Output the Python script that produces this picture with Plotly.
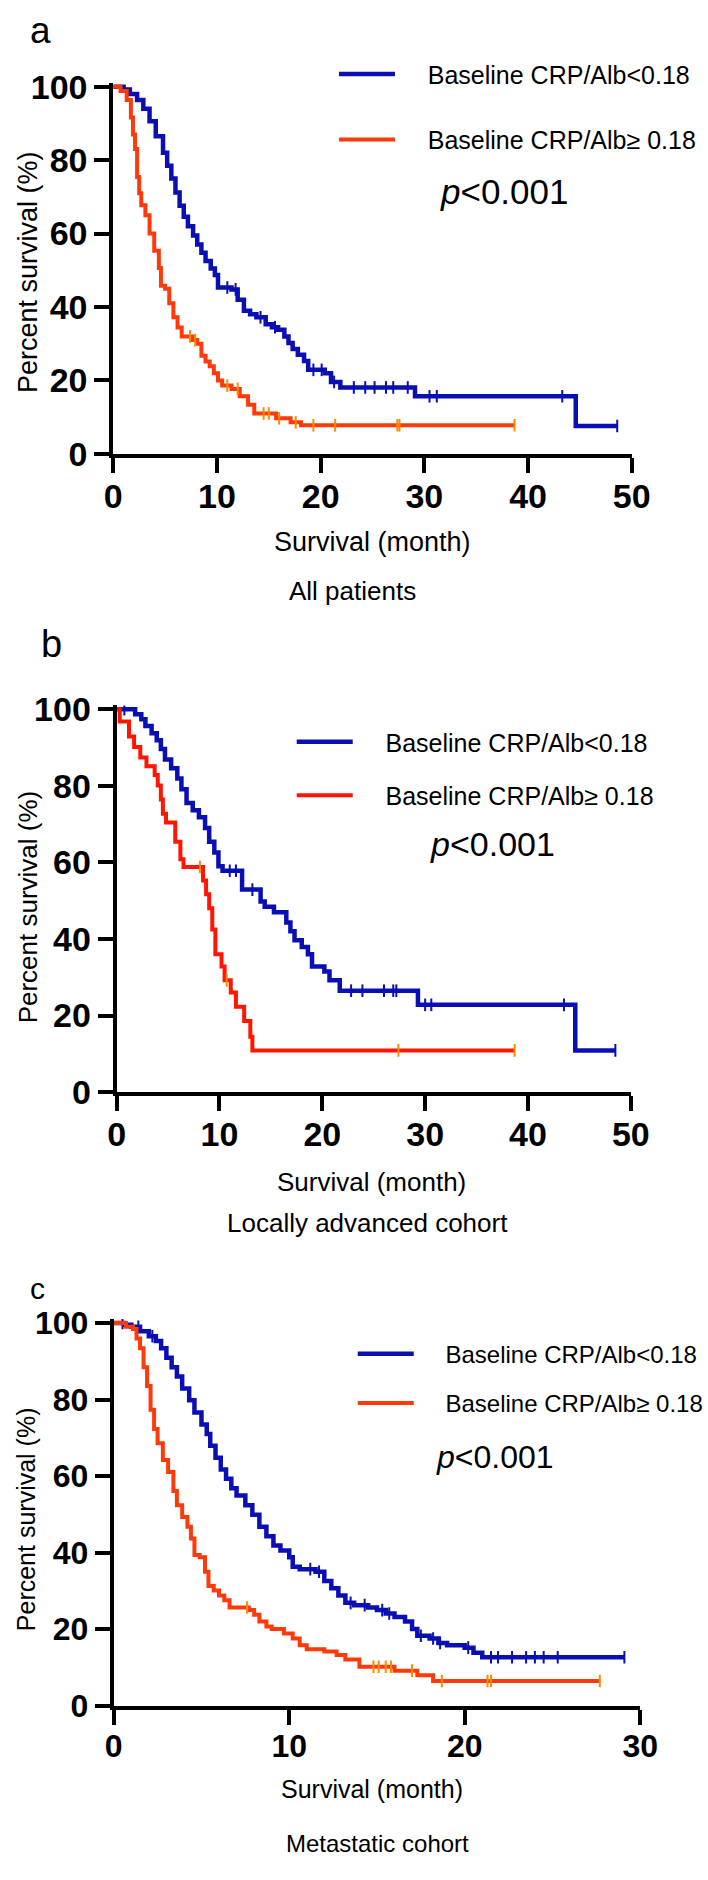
import plotly.graph_objects as go

# ---------------- data ----------------
# Panel a: All patients
a_low_t = [0, 1.0, 1.6, 2.3, 2.9, 3.5, 4.1, 4.8, 5.2, 5.6, 6.0, 6.4, 6.8, 7.2, 7.7, 8.1, 8.5, 8.9, 9.4, 9.8, 10.1,
           11.4, 12.0, 12.6, 13.2, 13.8, 14.7, 15.3, 15.9, 16.5, 16.9, 17.3, 17.8, 18.4, 18.8, 20.4, 21.0, 21.9, 29.1, 44.6]
a_low_s = [100, 99.2, 98, 96.4, 94, 90.6, 86.5, 82, 78.5, 75, 71.2, 67.6, 64.6, 62, 59.5, 57, 54.8, 52.5, 50.5, 48.7, 45.3,
           44.8, 42, 39, 38, 37.2, 35.3, 34.5, 33.8, 32, 30.2, 28.6, 27, 25.3, 22.9, 22, 19.6, 18.1, 15.7, 7.6]
a_low_end = 48.6
a_low_cens = [11.0, 11.8, 14.2, 15.6, 19.3, 20.1, 21.3, 23.2, 24.3, 25.2, 26.3, 27.0, 28.4, 30.5, 31.2, 43.3, 48.6]

a_high_t = [0, 0.7, 1.3, 1.7, 1.9, 2.1, 2.3, 2.5, 2.7, 3.1, 3.5, 3.95, 4.4, 4.6, 5.0, 5.4, 5.8, 6.2, 6.6, 7.65, 8.1, 8.5,
            8.9, 9.3, 9.7, 10.1, 10.5, 11.4, 12.2, 13.0, 13.6, 15.7, 17.1, 18.1]
a_high_s = [100, 98.8, 96.4, 91.6, 87, 83, 75.4, 71, 67.7, 65, 60, 55.3, 50.6, 45.8, 45, 41, 37.2, 34.4, 32, 31, 30, 26.7,
            25.2, 23.9, 22, 20, 18.6, 17.7, 15.7, 13.4, 11, 9.7, 8.6, 7.8]
a_high_end = 38.7
a_high_cens = [7.4, 7.9, 11.0, 12.0, 14.5, 15.0, 16.0, 17.6, 19.3, 21.4, 27.4, 27.6, 38.7]

# Panel b: Locally advanced cohort
b_low_t = [0, 1.8, 2.4, 2.8, 3.4, 3.9, 4.3, 4.7, 5.3, 5.9, 6.3, 6.8, 7.4, 8.0, 8.6, 9.0, 9.5, 9.9, 10.3, 12.2, 14.0,
           14.4, 15.3, 16.5, 16.9, 17.3, 18.0, 18.6, 19.0, 20.2, 20.7, 21.7, 29.3, 44.6]
b_low_s = [100, 98.7, 97.4, 95.6, 93.7, 91.9, 89.6, 86.9, 84.6, 81.9, 79.1, 75.5, 73.6, 71.8, 69, 65.4, 62.6, 59, 57.8,
           52.9, 49.8, 48.4, 47, 44.3, 42, 39.7, 37.9, 36, 32.8, 31.5, 29.2, 26.5, 22.8, 10.9]
b_low_end = 48.5
b_low_cens = [0.75, 11.0, 11.6, 13.2, 22.8, 23.9, 26.0, 26.9, 27.2, 30.0, 30.6, 43.5, 48.5]

b_high_t = [0, 0.3, 1.2, 1.7, 2.3, 2.9, 3.7, 4.0, 4.3, 4.5, 4.8, 5.7, 6.2, 6.5, 8.4, 8.7, 9.0, 9.3, 9.6, 10.2, 10.5,
            11.1, 11.6, 12.4, 13.0, 13.2]
b_high_s = [100, 96.8, 92.9, 90.1, 87.4, 85.1, 82.8, 80.1, 76.4, 72.7, 70.4, 65.4, 60.8, 58.8, 55.3, 51.7, 48, 42.5, 36,
            32.8, 29.2, 26, 22.3, 18.6, 14.5, 10.9]
b_high_end = 38.7
b_high_cens = [8.1, 10.7, 27.4, 38.7]

# Panel c: Metastatic cohort
c_low_t = [0, 0.6, 1.0, 1.5, 2.0, 2.4, 2.7, 3.0, 3.3, 3.6, 3.9, 4.3, 4.6, 5.0, 5.3, 5.5, 5.8, 6.1, 6.4, 6.7, 7.0, 7.5,
           7.9, 8.3, 8.7, 9.1, 9.5, 10.0, 10.2, 10.6, 11.5, 12.0, 12.4, 12.8, 13.2, 13.7, 14.5, 15.0, 15.5, 16.0, 16.6,
           17.0, 17.3, 18.0, 18.5, 19.0, 20.0, 20.5, 21.0]
c_low_s = [100, 99.5, 99, 97.8, 96.5, 95.3, 93.4, 90.9, 88.4, 86, 82.9, 79.8, 76.6, 73.5, 71, 67.9, 64.8, 61.7, 59.3,
           56.8, 54.9, 52.4, 49.9, 46.8, 44.3, 41.9, 40.6, 38.8, 36.3, 35.7, 35, 32.6, 30.7, 28.8, 26.9, 26.3, 25.7,
           25, 24.1, 23.2, 22, 20.1, 18.3, 17.6, 16.4, 15.8, 15.2, 13.9, 12.7]
c_low_end = 29.1
c_low_cens = [0.5, 1.4, 2.2, 11.2, 11.7, 13.5, 14.3, 15.3, 15.7, 17.5, 18.2, 18.6, 20.2, 21.5, 21.9, 22.7, 23.5, 24.0,
              24.5, 25.3, 29.1]

c_high_t = [0, 0.7, 1.1, 1.3, 1.5, 1.7, 1.9, 2.1, 2.3, 2.5, 2.8, 3.1, 3.4, 3.6, 3.9, 4.2, 4.4, 4.6, 4.9, 5.2, 5.4, 5.7,
            6.0, 6.3, 6.6, 7.7, 8.0, 8.3, 8.7, 9.0, 9.7, 10.2, 10.6, 11.0, 12.0, 12.7, 13.2, 14.0, 16.0, 17.3, 18.2]
c_high_s = [100, 99, 98.4, 95.9, 93.4, 88.4, 83.5, 77.3, 72.3, 68.6, 64.2, 61.1, 56.1, 52.4, 49.3, 46.8, 43.7, 39.4,
            38.8, 35, 31.3, 30.1, 28.8, 27.6, 25.7, 25, 23.8, 22, 20.7, 20.1, 18.9, 17.6, 15.8, 14.8, 14.2, 13.3,
            12.1, 10.2, 9.2, 8.0, 6.5]
c_high_end = 27.7
c_high_cens = [7.6, 14.8, 15.1, 15.5, 15.8, 17.0, 18.7, 21.3, 21.5, 27.7]

x_ticks_ab = [0, 10, 20, 30, 40, 50]
x_ticks_c = [0, 10, 20, 30]
y_ticks = [0, 20, 40, 60, 80, 100]

legend_low = "Baseline CRP/Alb&lt;0.18"
legend_high = "Baseline CRP/Alb≥ 0.18"
p_text = "<i>p</i>&lt;0.001"
x_title = "Survival (month)"
y_title = "Percent survival (%)"
panel_letters = ["a", "b", "c"]
cohorts = ["All patients", "Locally advanced cohort", "Metastatic cohort"]

# ---------------- styling ----------------
W, H = 708, 1880
BLUE = "#0A0FB4"
FONT = "Liberation Sans, Arial, Helvetica, sans-serif"
PAD = "&nbsp;&nbsp;&nbsp;&nbsp;"


def step_xy(t, s, end):
    xs = list(t) + [end]
    ys = list(s) + [s[-1]]
    return xs, ys


def surv_at(t, s, x):
    val = s[0]
    for ti, si in zip(t, s):
        if ti <= x:
            val = si
    return val


panels = [
    dict(lo=(a_low_t, a_low_s, a_low_end, a_low_cens), hi=(a_high_t, a_high_s, a_high_end, a_high_cens),
         red="#FF3A0A", xt=x_ticks_ab, xr=50, px=(111, 663), py=(447, 73), tfs=34, leg_fs=25),
    dict(lo=(b_low_t, b_low_s, b_low_end, b_low_cens), hi=(b_high_t, b_high_s, b_high_end, b_high_cens),
         red="#FF1500", xt=x_ticks_ab, xr=50, px=(114.6, 662), py=(1097, 707), tfs=34, leg_fs=25),
    dict(lo=(c_low_t, c_low_s, c_low_end, c_low_cens), hi=(c_high_t, c_high_s, c_high_end, c_high_cens),
         red="#FF3A0A", xt=x_ticks_c, xr=30, px=(111.5, 672), py=(1722, 1332), tfs=32, leg_fs=24),
]

fig = go.Figure()
layout = dict(width=W, height=H, margin=dict(l=0, r=0, t=0, b=0),
              paper_bgcolor="white", plot_bgcolor="white", showlegend=True,
              font=dict(family=FONT, color="black"), hovermode=False)

legend_pos = [  # (line-left px, blue-line centre px, red-line centre px)
    (352, 57, 120), (307, 737, 788), (372, 1361, 1409)
]

for i, p in enumerate(panels):
    n = "" if i == 0 else str(i + 1)
    xa, ya = "x" + n, "y" + n
    leg = "legend" + n
    for key, color, name, width in (("lo", BLUE, legend_low, 4.5), ("hi", p["red"], legend_high, 4)):
        t, s, end, cens = p[key]
        xs, ys = step_xy(t, s, end)
        fig.add_trace(go.Scatter(x=xs, y=ys, mode="lines", line=dict(color=color, width=width, shape="hv"),
                                 name=PAD + name, xaxis=xa, yaxis=ya, legend=leg, legendgroup=key + n,
                                 showlegend=True))
        fig.add_trace(go.Scatter(x=cens, y=[surv_at(t, s, c) for c in cens], mode="markers",
                                 marker=dict(symbol="line-ns", size=9,
                                             line=dict(color=color if key == "lo" else "#FF8A00", width=2)),
                                 xaxis=xa, yaxis=ya, showlegend=False, hoverinfo="skip"))
    x0p, x1p = p["px"]
    y0p, y100p = p["py"]
    ppu = (y0p - y100p) / 100.0
    ytop = y0p - 101 * ppu
    axis_common = dict(showline=True, linecolor="black", linewidth=4, ticks="outside", ticklen=15,
                       tickwidth=4, tickcolor="black", showgrid=False, zeroline=False,
                       tickfont=dict(family=FONT, size=p["tfs"], color="black", weight="bold"))
    layout["xaxis" + n] = dict(domain=[x0p / W, x1p / W], range=[0, p["xr"]], tickvals=p["xt"],
                               anchor=ya, ticklabelstandoff=-6, **axis_common)
    layout["yaxis" + n] = dict(domain=[1 - y0p / H, 1 - ytop / H], range=[0, 101], tickvals=y_ticks,
                               anchor=xa, **axis_common)
    lx, by, ry = legend_pos[i]
    layout[leg] = dict(x=(lx - 6) / W, y=1 - (by - 20) / H, xanchor="left", yanchor="top",
                       font=dict(family=FONT, size=p["leg_fs"], color="black"), bgcolor="rgba(0,0,0,0)",
                       tracegroupgap=(ry - by) - 33, itemwidth=56, traceorder="grouped")

fig.update_layout(**layout)

ann = []
text_specs = [
    # (text, x px, y px, size, angle, xanchor)
    (panel_letters[0], 34, 16, 37, 0, "center"),
    (panel_letters[1], 45, 641, 38, 0, "center"),
    (panel_letters[2], 30, 1297, 30, 0, "center"),
    (x_title, 387, 537, 27, 0, "center"),
    (cohorts[0], 366, 587, 26, 0, "center"),
    (x_title, 386, 1188, 26, 0, "center"),
    (cohorts[1], 382, 1230, 26, 0, "center"),
    (x_title, 387, 1807, 25, 0, "center"),
    (cohorts[2], 392, 1862, 24, 0, "center"),
    (y_title, 20, 262, 27, -90, "center"),
    (y_title, 20, 908, 26, -90, "center"),
    (y_title, 18, 1532, 25, -90, "center"),
    (p_text, 457, 180, 35, 0, "left"),
    (p_text, 446, 844, 34, 0, "left"),
    (p_text, 453, 1469, 32, 0, "left"),
]
for txt, x, y, size, ang, xanc in text_specs:
    ann.append(dict(text=txt, x=x / W, y=1 - y / H, xref="paper", yref="paper", showarrow=False,
                    xanchor=xanc, yanchor="middle", textangle=ang,
                    font=dict(family=FONT, size=size, color="black")))
fig.update_layout(annotations=ann)

fig.write_html("out.html", config={"displayModeBar": False},
               post_script="document.body.style.margin='0';document.documentElement.style.overflow='hidden';")
